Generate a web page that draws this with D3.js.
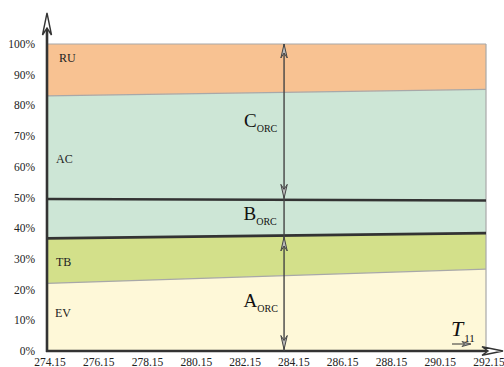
<!DOCTYPE html>
<html><head><meta charset="utf-8">
<script src="https://cdn.jsdelivr.net/npm/d3@7"></script>
<style>html,body{margin:0;padding:0;background:#fff;}svg{display:block;}
svg text{font-family:"Liberation Serif","Times New Roman","DejaVu Serif",serif;}</style>
</head><body>
<script>
// ---- data ----
const temps = [274.15, 292.15];                 // x extent of the bands (K)
const xTicks = [274.15,276.15,278.15,280.15,282.15,284.15,286.15,288.15,290.15,292.15];
const yTicks = [0,10,20,30,40,50,60,70,80,90,100];
const evTop  = [22.0, 26.7];   // EV upper boundary (%)
const tbTop  = [36.7, 38.4];   // TB upper boundary (%), A_ORC
const bLine  = [49.5, 49.0];   // B_ORC upper boundary (%)
const acTop  = [83.1, 85.2];   // AC upper boundary (%)
const ruTop  = [100, 100];
const bandNames = ["EV","TB","AC","RU"];
const arrowT = 283.87;         // temperature where the ORC arrows are drawn

const W = 504, H = 367;
const svg = d3.select("body").append("svg").attr("width", W).attr("height", H);
const x = d3.scaleLinear().domain([274.15, 292.15]).range([47, 486]);
const y = d3.scaleLinear().domain([0, 100]).range([351, 44]);

const zero = temps.map(() => 0);
const bands = [
  {name:bandNames[0], lo: zero,  hi: evTop, fill:"#fef8d8", lx:55, ly:12.3},
  {name:bandNames[1], lo: evTop, hi: tbTop, fill:"#d3e08a", lx:56, ly:29},
  {name:bandNames[2], lo: tbTop, hi: acTop, fill:"#cde6d6", lx:56, ly:62.6},
  {name:bandNames[3], lo: acTop, hi: ruTop, fill:"#f8c292", lx:59, ly:95.5}
];
const area = d3.area().x((d,i)=>x(temps[i])).y0(d=>y(d[0])).y1(d=>y(d[1]));
bands.forEach(b => {
  const pts = temps.map((t,i)=>[b.lo[i], b.hi[i]]);
  svg.append("path").attr("d", area(pts)).attr("fill", b.fill);
});
const line = d3.line().x((d,i)=>x(temps[i])).y(d=>y(d));
[evTop, acTop, ruTop].forEach(arr => {
  svg.append("path").attr("d", line(arr)).attr("fill","none").attr("stroke","#a8a8a8").attr("stroke-width",1.2);
});
svg.append("line").attr("x1", x(292.15)).attr("x2", x(292.15)).attr("y1", y(0)).attr("y2", y(100))
  .attr("stroke","#a8a8a8").attr("stroke-width",1.2);
[tbTop, bLine].forEach(arr => {
  svg.append("path").attr("d", line(arr)).attr("fill","none").attr("stroke","#333").attr("stroke-width",2.6);
});

bands.forEach(b => {
  svg.append("text").attr("x", b.lx).attr("y", y(b.ly)).attr("dy","0.35em")
    .attr("font-size", 12).attr("fill","#222").text(b.name);
});

// axes
svg.append("line").attr("x1", 47).attr("x2", 47).attr("y1", y(0)+1).attr("y2", 20)
  .attr("stroke","#333").attr("stroke-width",2.6);
svg.append("line").attr("x1", 46).attr("x2", 494).attr("y1", y(0)).attr("y2", y(0))
  .attr("stroke","#333").attr("stroke-width",2.4);
svg.append("path").attr("d","M47,13 L51.5,35 L47,28 L42.5,35 Z").attr("fill","#fff").attr("stroke","#333").attr("stroke-width",1.4);
svg.append("path").attr("d",`M503,${y(0)} L482,${y(0)-4.2} L488,${y(0)} L482,${y(0)+4.2} Z`).attr("fill","#fff").attr("stroke","#333").attr("stroke-width",1.4);

svg.selectAll(".yt").data(yTicks).join("text")
  .attr("x", 35).attr("y", d=>y(d)).attr("dy","0.35em").attr("text-anchor","end")
  .attr("font-size", 11.5).attr("fill","#222").text(d=>d+"%");
svg.selectAll(".xt").data(xTicks).join("text")
  .attr("x", d=>x(d)+3).attr("y", 366).attr("text-anchor","middle")
  .attr("font-size", 11.5).attr("fill","#222").text(d=>d.toFixed(2));

// ORC arrows
const ax = x(arrowT);
function head(px, py, dir){
  const L = 14, w = 3.2, n = 9;
  return `M${px},${py} L${px+w},${py-dir*L} L${px},${py-dir*n} L${px-w},${py-dir*L} Z`;
}
svg.append("line").attr("x1", ax).attr("x2", ax).attr("y1", y(100)).attr("y2", y(0))
  .attr("stroke","#444").attr("stroke-width",1.4);
const aTop = y(tbTop[0] + (tbTop[1]-tbTop[0])*(arrowT-274.15)/18);
const bY = y(bLine[0] + (bLine[1]-bLine[0])*(arrowT-274.15)/18);
[[y(100),-1],[bY-1.5,1],[aTop+1.5,-1],[y(0)-1.5,1]].forEach(([py,dir]) => {
  svg.append("path").attr("d", head(ax, py, dir)).attr("fill","#bbb").attr("stroke","#444").attr("stroke-width",1);
});

function sublabel(big, sub, xx, yy){
  const t = svg.append("text").attr("x", xx).attr("y", yy).attr("fill","#111");
  t.append("tspan").attr("font-size", 19).text(big);
  t.append("tspan").attr("font-size", 10).attr("dy", 5).text(sub);
}
sublabel("C", "ORC", 244, 127);
sublabel("B", "ORC", 243.5, 220);
sublabel("A", "ORC", 243.5, 307);

const tt = svg.append("text").attr("x", 451).attr("y", 336).attr("fill","#111");
tt.append("tspan").attr("font-size", 22).attr("font-style","italic").text("T");
tt.append("tspan").attr("font-size", 11).attr("dx", 1).attr("dy", 6).text("11");
svg.append("line").attr("x1", 452).attr("x2", 467).attr("y1", 344).attr("y2", 344).attr("stroke","#333").attr("stroke-width",1);
svg.append("path").attr("d","M471,344 L462,341.5 L464.5,344 L462,346.5 Z").attr("fill","#999").attr("stroke","#333").attr("stroke-width",0.8);
</script>
</body></html>
